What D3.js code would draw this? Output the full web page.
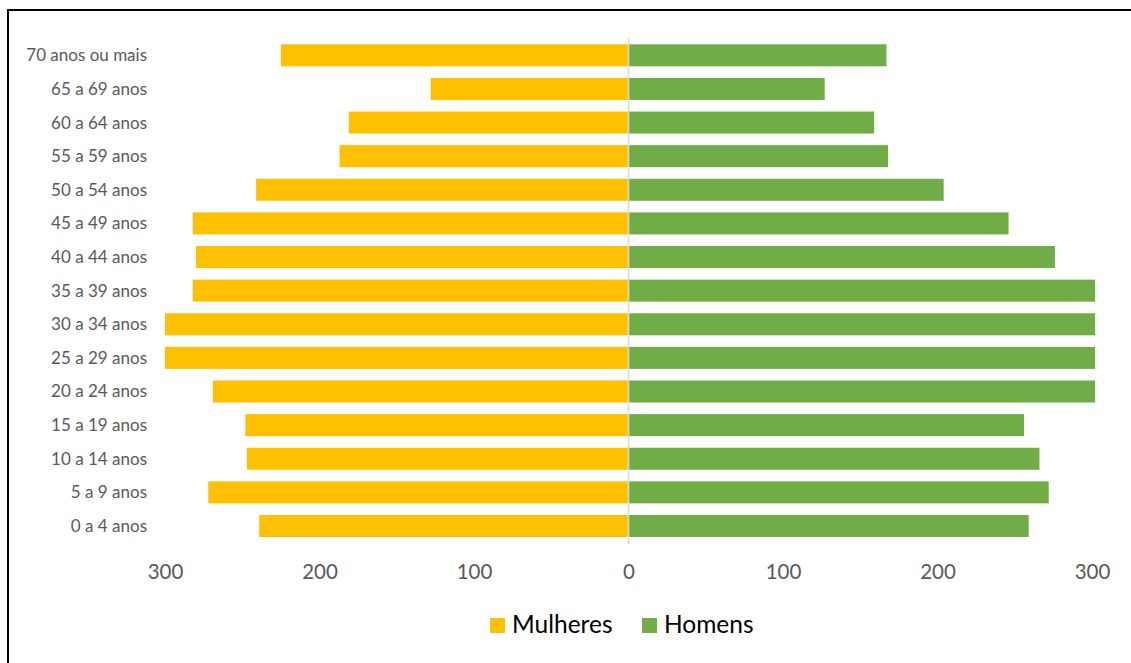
<!DOCTYPE html>
<html>
<head>
<meta charset="utf-8">
<script src="https://cdn.jsdelivr.net/npm/d3@7"></script>
<style>
  html, body { margin: 0; padding: 0; background: #fff; }
  svg { display: block; font-family: Lato, "Noto Sans", sans-serif; }
</style>
</head>
<body>
<svg id="chart" width="1131" height="663"></svg>
<script>
// Age groups, youngest first
const ageGroups = [
  "0 a 4 anos", "5 a 9 anos", "10 a 14 anos", "15 a 19 anos", "20 a 24 anos",
  "25 a 29 anos", "30 a 34 anos", "35 a 39 anos", "40 a 44 anos", "45 a 49 anos",
  "50 a 54 anos", "55 a 59 anos", "60 a 64 anos", "65 a 69 anos", "70 anos ou mais"
];
const mulheres = [239, 272, 247, 248, 269, 300, 300, 282, 280, 282, 241, 187, 181, 128, 225];
const homens   = [259, 272, 266, 256, 302, 302, 302, 302, 276, 246, 204, 168, 159, 127, 167];
const tickValues = [0, 100, 200, 300];
const seriesNames = ["Mulheres", "Homens"];
const seriesColors = ["#FFC000", "#70AD47"];

const svg = d3.select("#chart");

// Chart frame
svg.append("rect")
  .attr("x", 8).attr("y", 10)
  .attr("width", 1200).attr("height", 700)
  .attr("fill", "none").attr("stroke", "#000").attr("stroke-width", 2);

const center = 628.5, half = 463.5;
const xLeft = d3.scaleLinear().domain([0, 300]).range([center, center - half]);
const xRight = d3.scaleLinear().domain([0, 300]).range([center, center + half]);
const y = d3.scaleBand()
  .domain(ageGroups.slice().reverse())
  .range([38.5, 542.8])
  .paddingInner(0.345)
  .paddingOuter(0.1725);

const rows = ageGroups.map((g, i) => ({ g, f: mulheres[i], m: homens[i] }));

// Women to the left
svg.append("g").selectAll("rect").data(rows).join("rect")
  .attr("x", d => xLeft(d.f))
  .attr("y", d => y(d.g))
  .attr("width", d => xLeft(0) - xLeft(d.f))
  .attr("height", y.bandwidth())
  .attr("fill", seriesColors[0]);

// Men to the right
svg.append("g").selectAll("rect").data(rows).join("rect")
  .attr("x", xRight(0))
  .attr("y", d => y(d.g))
  .attr("width", d => xRight(d.m) - xRight(0))
  .attr("height", y.bandwidth())
  .attr("fill", seriesColors[1]);

// Central axis line
svg.append("line")
  .attr("x1", center).attr("x2", center)
  .attr("y1", 38).attr("y2", 544)
  .attr("stroke", "#d9d9d9").attr("stroke-width", 1.6);

// Category labels
svg.append("g").selectAll("text").data(ageGroups).join("text")
  .attr("x", 147)
  .attr("y", d => y(d) + y.bandwidth() / 2)
  .attr("dy", "0.35em")
  .attr("text-anchor", "end")
  .attr("fill", "#595959")
  .attr("font-size", 17)
  .text(d => d);

// Value axes
function styleAxis(g) {
  g.select(".domain").remove();
  g.selectAll(".tick line").remove();
  g.selectAll(".tick text")
    .attr("fill", "#595959")
    .attr("font-size", 20.5)
    .attr("font-family", "Lato, 'Noto Sans', sans-serif")
    .attr("dy", 0)
    .attr("y", 0);
}
svg.append("g")
  .attr("transform", "translate(0,579)")
  .call(d3.axisBottom(xLeft).tickValues(tickValues.filter(v => v > 0)).tickFormat(d3.format("d")))
  .call(styleAxis);
svg.append("g")
  .attr("transform", "translate(0,579)")
  .call(d3.axisBottom(xRight).tickValues(tickValues).tickFormat(d3.format("d")))
  .call(styleAxis);

// Legend
const legendItems = [
  { name: seriesNames[0], color: seriesColors[0], x: 490 },
  { name: seriesNames[1], color: seriesColors[1], x: 642 }
];
const lg = svg.append("g").selectAll("g").data(legendItems).join("g")
  .attr("transform", d => `translate(${d.x},618)`);
lg.append("rect").attr("width", 15).attr("height", 15).attr("fill", d => d.color);
lg.append("text")
  .attr("x", 22).attr("y", 15)
  .attr("font-size", 24.5)
  .attr("fill", "#000")
  .text(d => d.name);
</script>
</body>
</html>
